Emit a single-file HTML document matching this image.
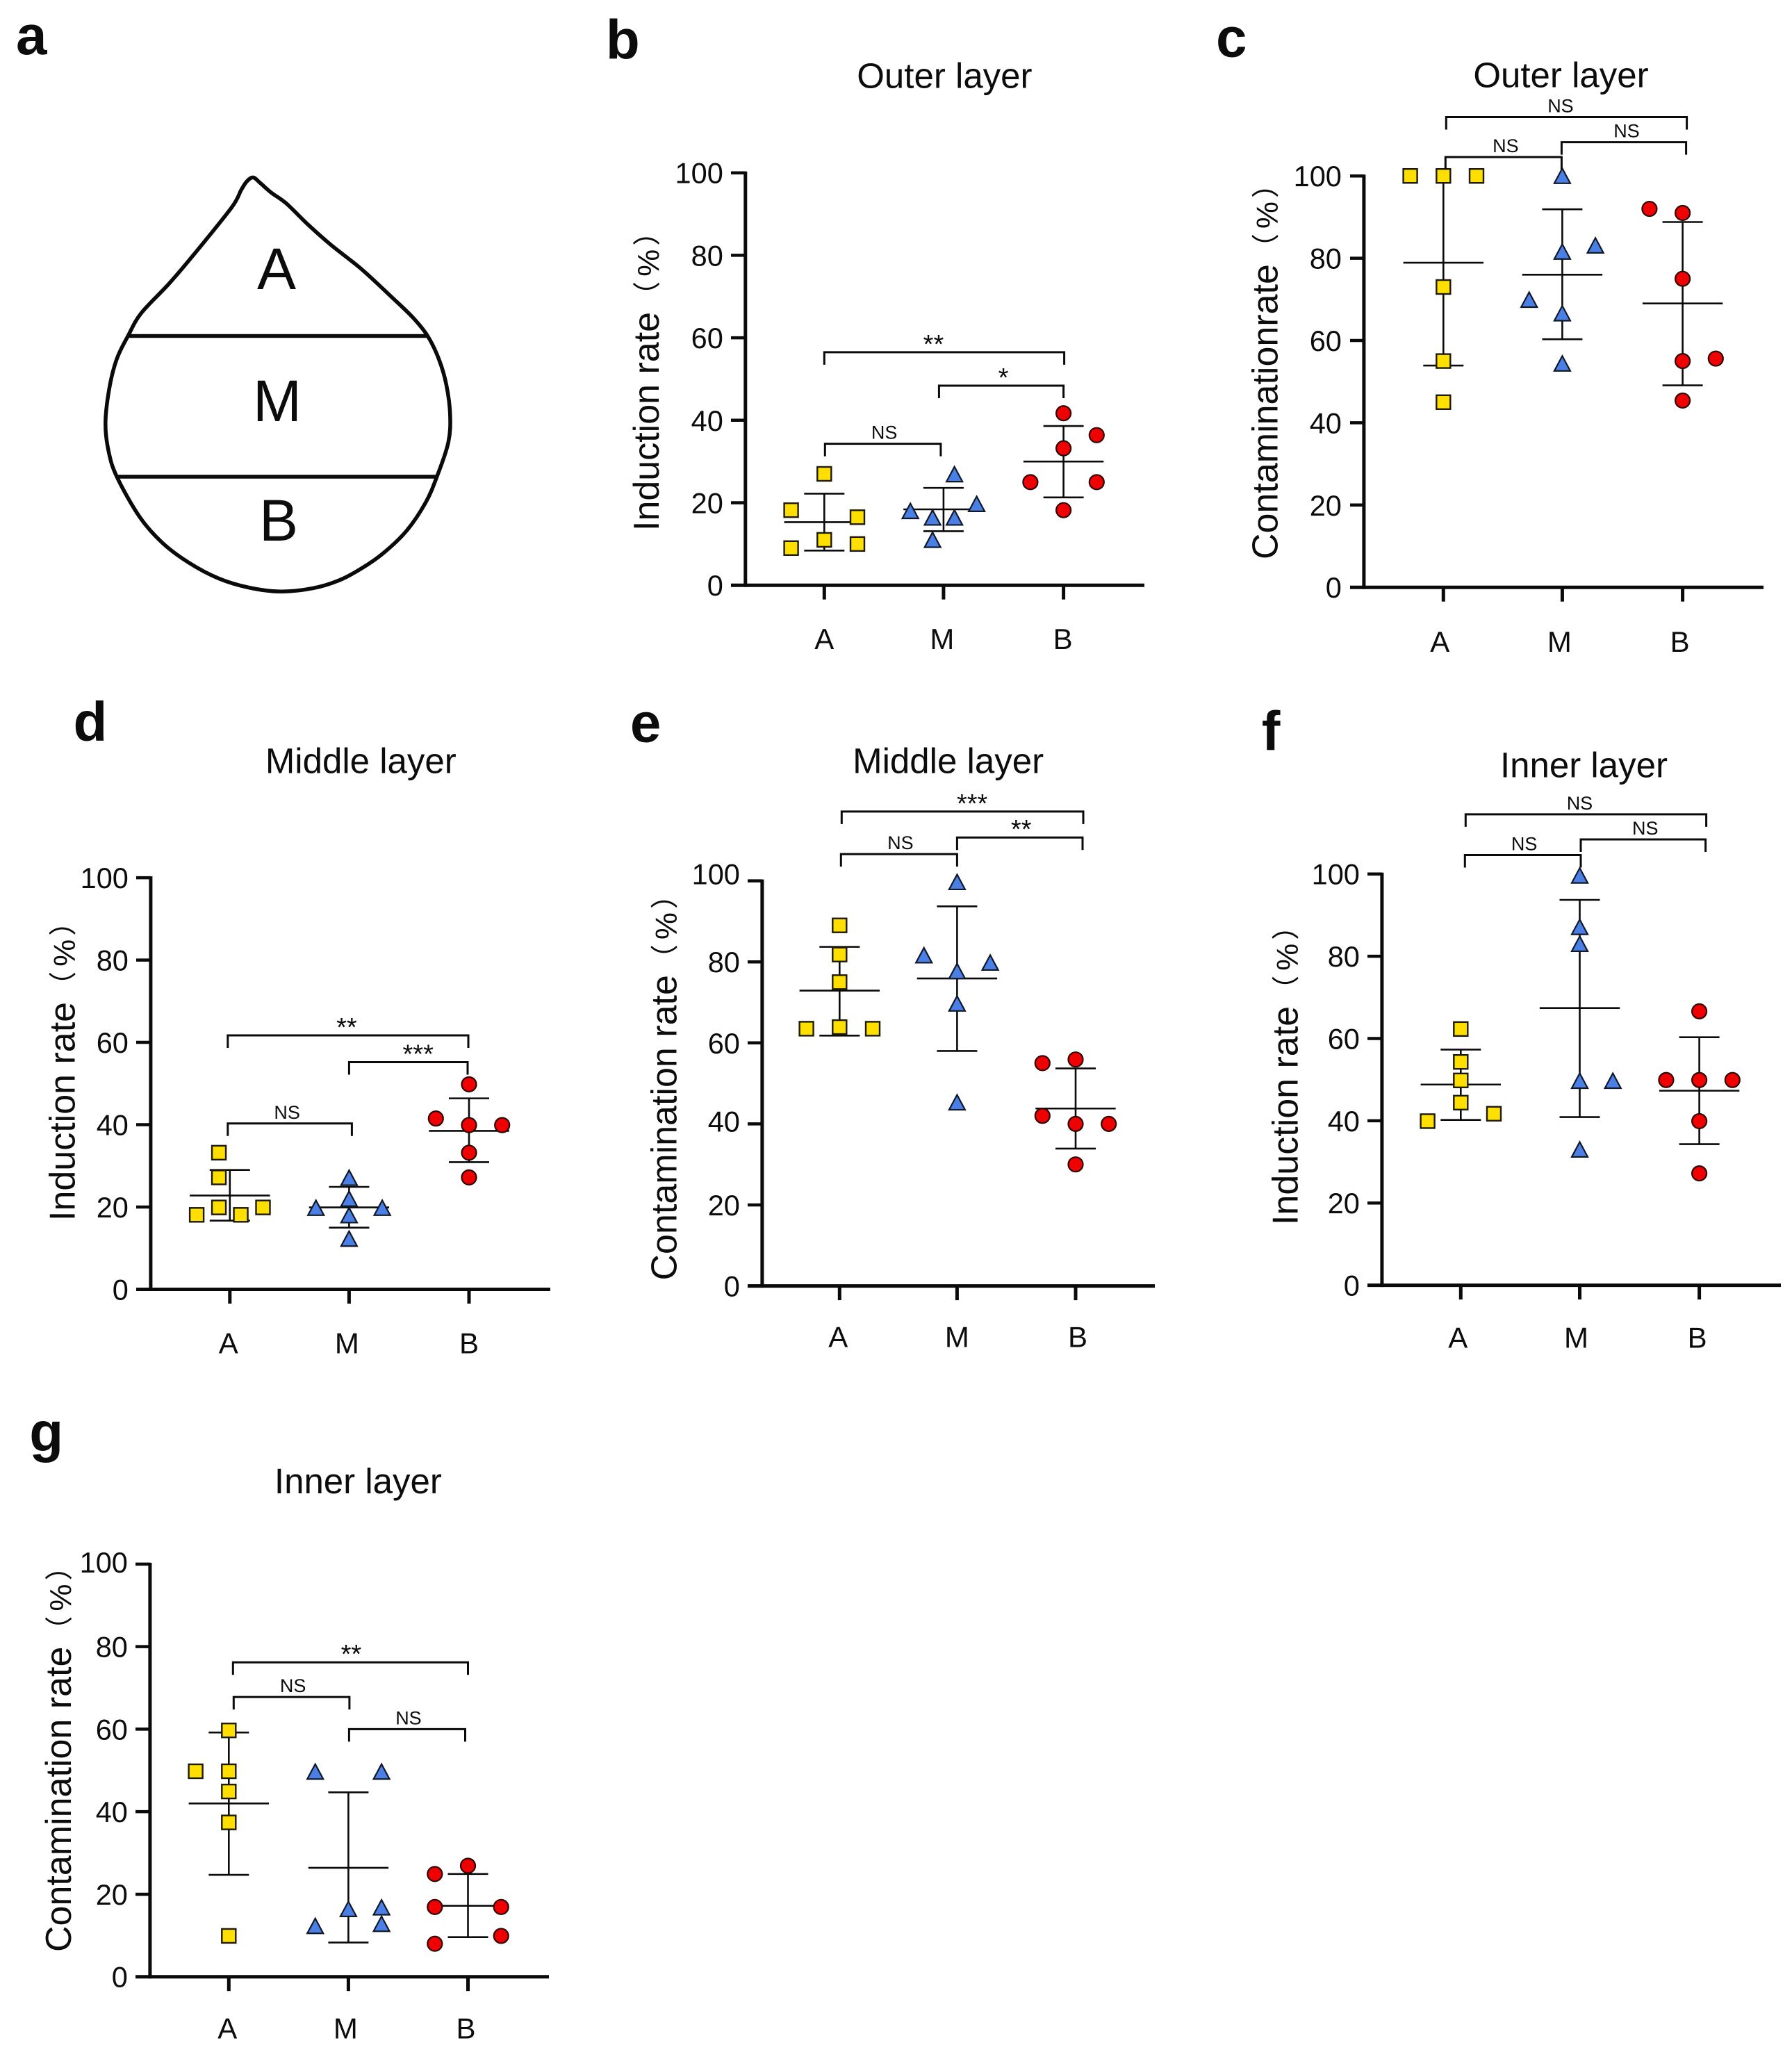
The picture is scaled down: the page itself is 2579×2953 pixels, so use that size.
<!DOCTYPE html>
<html lang="en">
<head>
<meta charset="utf-8">
<title>Induction and contamination rates by leaf section</title>
<style>
html,body{margin:0;padding:0;background:#fff;}
body{width:2579px;height:2953px;overflow:hidden;}
svg{display:block;}
text{font-family:"Liberation Sans","Noto Sans CJK SC",sans-serif;fill:#0c0c0c;}
</style>
</head>
<body>
<svg id="figure" xmlns="http://www.w3.org/2000/svg" width="2579" height="2953" viewBox="0 0 2579 2953">
  <rect x="0" y="0" width="2579" height="2953" fill="#fff"/>
  <g>
    <text x="23" y="78" font-size="80" font-weight="bold">a</text>
    <path id="leaf-outline" fill="none" stroke="#0a0a0a" stroke-width="5.5" stroke-linejoin="round" d=""/>
    <line x1="184" y1="483.5" x2="616" y2="483.5" stroke="#0a0a0a" stroke-width="5.5"/>
    <line x1="168" y1="686" x2="629" y2="686" stroke="#0a0a0a" stroke-width="5.5"/>
    <text x="398" y="416" font-size="84" text-anchor="middle">A</text>
    <text x="399" y="606" font-size="84" text-anchor="middle">M</text>
    <text x="401" y="778" font-size="84" text-anchor="middle">B</text>
  </g>
</svg>
<script>
const categories = ['A', 'M', 'B'];
const tickValues = [0, 20, 40, 60, 80, 100];

const bValues = [[27, 18.2, 16.5, 11, 9, 10], [26.8, 17.9, 16.3, 16.3, 19.6, 10.9], [41.7, 36.4, 33.2, 25, 25, 18.2]];
const bSlots = [[0, -1, 1, 0, -1, 1], [0.33, -1, -0.33, 0.33, 1, -0.33], [0, 1, 0, -1, 1, 0]];
const bMeans = [15.3, 18.4, 30];
const bUpper = [22.2, 23.6, 38.6];
const bLower = [8.4, 13.1, 21.3];

const cValues = [[100, 100, 100, 73, 55, 45], [99.9, 81.5, 83, 69.8, 66.5, 54.3], [92, 91, 75, 55, 55.6, 45.4]];
const cSlots = [[-1, 0, 1, 0, 0, 0], [0, 0, 1, -1, 0, 0], [-1, 0, 0, 0, 1, 0]];
const cMeans = [78.9, 76, 69];
const cUpper = [100, 91.9, 88.8];
const cLower = [53.9, 60.3, 49.1];

const dValues = [[33.2, 27.2, 19.9, 18.1, 18.1, 19.9], [27, 21.9, 17.9, 12.2, 19.7, 19.7], [49.8, 41.5, 39.9, 39.9, 33.2, 27.2]];
const dSlots = [[-0.33, -0.33, -0.33, -1, 0.33, 1], [0, 0, 0, 0, -1, 1], [0, -1, 0, 1, 0, 0]];
const dMeans = [22.8, 19.9, 38.5];
const dUpper = [29, 24.9, 46.4];
const dLower = [16.7, 15, 30.9];

const eValues = [[89, 81.8, 75, 63.9, 63.5, 63.5], [99.6, 77.6, 69.6, 45.2, 81.5, 79.7], [55.9, 55, 42, 40, 40, 30]];
const eSlots = [[0, 0, 0, 0, -1, 1], [0, 0, 0, 0, -1, 1], [0, -1, -1, 0, 1, 0]];
const eMeans = [72.9, 75.9, 43.8];
const eUpper = [83.7, 93.7, 53.7];
const eLower = [61.8, 58, 33.9];

const fValues = [[62.3, 54.3, 49.8, 44.4, 39.9, 41.7], [99.5, 87, 82.9, 49.6, 49.6, 32.9], [66.6, 49.9, 49.9, 49.9, 39.9, 27.2]];
const fSlots = [[0, 0, 0, 0, -1, 1], [0, 0, 0, 0, 1, 0], [0, -1, 0, 1, 0, 0]];
const fMeans = [48.8, 67.4, 47.3];
const fUpper = [57.3, 93.7, 60.3];
const fLower = [40.2, 40.9, 34.3];

const gValues = [[59.7, 49.8, 49.8, 44.9, 37.4, 9.9], [49.6, 49.6, 16.3, 16.7, 12.7, 12.2], [26.9, 24.9, 16.9, 16.9, 9.9, 8]];
const gSlots = [[0, 0, -1, 0, 0, 0], [-1, 1, 0, 1, 1, -1], [0, -1, -1, 1, 1, -1]];
const gMeans = [42, 26.4, 17.2];
const gUpper = [59.2, 44.7, 24.9];
const gLower = [24.7, 8.3, 9.6];

const bBracketLevels = [56.5, 48.4, 34.3];
const cBracketLevels = [114.3, 104.6, 108.2];
const dBracketLevels = [61.7, 55.2, 40.3];
const eBracketLevels = [117.1, 110.7, 106.6];
const fBracketLevels = [114.5, 108.4, 104.6];
const gBracketLevels = [76.2, 67.8, 60];

const bBracketLabels = ['**', '*', 'NS'];
const cBracketLabels = ['NS', 'NS', 'NS'];
const dBracketLabels = ['**', '***', 'NS'];
const eBracketLabels = ['***', '**', 'NS'];
const fBracketLabels = ['NS', 'NS', 'NS'];
const gBracketLabels = ['**', 'NS', 'NS'];

const panels = [
  {id:'b', title:'Outer layer', yTitle:'Induction rate', axisX:1072.8, y0:842.2, y100:248.7, ticks:[1186.3,1357.9,1530.6], left:1052, right:1647,
   letter:[871.9,84.6], titlePos:[1359.4,126.4], yTitlePos:[948,764], catDrop:92, catNudge:[0,-2,-1], tickNudge:{},
   values:bValues, slots:bSlots, means:bMeans, upper:bUpper, lower:bLower,
   levels:bBracketLevels, labels:bBracketLabels, spans:[[0,2,0,1,-15.5],[1,2,-6.5,0,3],[0,1,1,-4,2]]},
  {id:'c', title:'Outer layer', yTitle:'Contaminationrate', axisX:1962.9, y0:845.2, y100:253.2, ticks:[2077.3,2248.4,2421.6], left:1943, right:2538,
   letter:[1750,81.6], titlePos:[2246.5,125.4], yTitlePos:[1838.5,805], catDrop:93, catNudge:[-5,-4,-4], tickNudge:{},
   values:cValues, slots:cSlots, means:cMeans, upper:cUpper, lower:cLower,
   levels:cBracketLevels, labels:cBracketLabels, spans:[[0,2,4,6,-8.5],[0,1,3,-1,3],[1,2,-1,5,4]]},
  {id:'d', title:'Middle layer', yTitle:'Induction rate', axisX:216.9, y0:1855.5, y100:1263.1, ticks:[330.8,502.4,675], left:196, right:792,
   letter:[105.5,1066], titlePos:[519.3,1112.3], yTitlePos:[107.4,1757], catDrop:92, catNudge:[-2,-3,0], tickNudge:{},
   values:dValues, slots:dSlots, means:dMeans, upper:dUpper, lower:dLower,
   levels:dBracketLevels, labels:dBracketLabels, spans:[[0,2,-3,-1,-2],[1,2,0,-2,14],[0,1,-3,4,-4]]},
  {id:'e', title:'Middle layer', yTitle:'Contamination rate', axisX:1096.9, y0:1850.6, y100:1267.6, ticks:[1208.3,1377.4,1548], left:1076, right:1662,
   letter:[906.9,1067.7], titlePos:[1364.6,1112.4], yTitlePos:[973.5,1842.5], catDrop:88, catNudge:[-2,0,3], tickNudge:{100:-10, 40:-4},
   values:eValues, slots:eSlots, means:eMeans, upper:eUpper, lower:eLower,
   levels:eBracketLevels, labels:eBracketLabels, spans:[[0,2,3,11,14],[1,2,0,10,2],[0,1,2,0,2]]},
  {id:'f', title:'Inner layer', yTitle:'Induction rate', axisX:1988.9, y0:1849.6, y100:1257.7, ticks:[2102.3,2273.5,2445.6], left:1968, right:2563,
   letter:[1815.8,1079.6], titlePos:[2279.5,1118.4], yTitlePos:[1867.6,1763], catDrop:90, catNudge:[-4,-5,-3], tickNudge:{},
   values:fValues, slots:fSlots, means:fMeans, upper:fUpper, lower:fLower,
   levels:fBracketLevels, labels:fBracketLabels, spans:[[0,2,7,10,-9],[1,2,1.5,9,3],[0,1,6,1.5,2]]},
  {id:'g', title:'Inner layer', yTitle:'Contamination rate', axisX:215.9, y0:2844.7, y100:2250.9, ticks:[329.3,501.4,673.5], left:195, right:790,
   letter:[42.3,2088], titlePos:[515.4,2149.2], yTitlePos:[102,2809], catDrop:89, catNudge:[-2,-4,-3], tickNudge:{100:-3},
   values:gValues, slots:gSlots, means:gMeans, upper:gUpper, lower:gLower,
   levels:gBracketLevels, labels:gBracketLabels, spans:[[0,2,6,0,1],[0,1,7,1.5,2],[1,2,1,-4,2]]}
];

const SVG_NS = 'http://www.w3.org/2000/svg';
const figure = document.getElementById('figure');
const SLOT_PX = 47.7;
const MEAN_HALF = 57.7;
const CAP_HALF = 29;
const INK = '#0a0a0a';

function mk(parent, tag, props) {
  const el = document.createElementNS(SVG_NS, tag);
  Object.keys(props).forEach(function (k) { el.setAttribute(k, props[k]); });
  parent.appendChild(el);
  return el;
}
function drawLine(parent, x1, y1, x2, y2, w) {
  return mk(parent, 'line', {x1: x1, y1: y1, x2: x2, y2: y2, stroke: INK, 'stroke-width': w});
}

// Smooth closed outline of the leaf diagram (panel a), built as a Catmull-Rom curve.
(function () {
  const pts = [[1135,842],[1165,900],[1185,965],[1195,1040],[1190,1110],[1160,1195],[1130,1260],[1080,1330],[1020,1385],[960,1425],[900,1455],[830,1475],[745,1483],[660,1473],[580,1450],[500,1410],[430,1360],[370,1295],[310,1195],[288,1130],[280,1060],[290,975],[310,900],[340,842],[375,785],[450,710],[520,632],[615,520],[640,477],[655,455],[672,445],[690,458],[720,483],[760,510],[820,565],[880,615],[960,675],[1040,745],[1095,795]]
    .map(function (q) { return [q[0] * 0.5421, q[1] * 0.574]; });
  const n = pts.length;
  let d = 'M' + pts[0][0].toFixed(1) + ' ' + pts[0][1].toFixed(1);
  for (let i = 0; i < n; i++) {
    const p0 = pts[(i - 1 + n) % n], p1 = pts[i], p2 = pts[(i + 1) % n], p3 = pts[(i + 2) % n];
    const c1x = p1[0] + (p2[0] - p0[0]) / 6, c1y = p1[1] + (p2[1] - p0[1]) / 6;
    const c2x = p2[0] - (p3[0] - p1[0]) / 6, c2y = p2[1] - (p3[1] - p1[1]) / 6;
    d += ' C' + c1x.toFixed(1) + ' ' + c1y.toFixed(1) + ' ' + c2x.toFixed(1) + ' ' + c2y.toFixed(1) + ' ' + p2[0].toFixed(1) + ' ' + p2[1].toFixed(1);
  }
  document.getElementById('leaf-outline').setAttribute('d', d + ' Z');
})();

panels.forEach(function (p) {
  const yAt = function (v) { return p.y0 - (p.y0 - p.y100) * v / 100; };

  const group = mk(figure, 'g', {});
  
  

  const letter = mk(group, 'text', {x: p.letter[0], y: p.letter[1], 'font-size': 80, 'font-weight': 'bold'});
  letter.textContent = p.id;
  
  

  const title = mk(group, 'text', {x: p.titlePos[0], y: p.titlePos[1], 'font-size': 51, 'text-anchor': 'middle'});
  title.textContent = p.title;
  
  

  const yTitle = mk(group, 'text', {x: 0, y: 0, 'font-size': 52, transform: 'translate(' + p.yTitlePos[0] + ' ' + p.yTitlePos[1] + ') rotate(-90)'});
  const yMain = mk(yTitle, 'tspan', {});
  yMain.textContent = p.yTitle;
  const yOpen = mk(yTitle, 'tspan', {'font-size': 40, dx: 4, dy: -3});
  yOpen.textContent = '（';
  const yPercent = mk(yTitle, 'tspan', {'font-size': 44, dx: 7, dy: 3});
  yPercent.textContent = '%';
  const yClose = mk(yTitle, 'tspan', {'font-size': 40, dx: 5, dy: -3});
  yClose.textContent = '）';
  
  

  const yAxis = drawLine(group, p.axisX, p.y100 - 2, p.axisX, p.y0 + 2.5, 5);
  
  

  const xAxis = drawLine(group, p.left, p.y0, p.right, p.y0, 5);
  
  

  tickValues.forEach(function (v) {
    const tick = drawLine(group, p.left, yAt(v), p.axisX, yAt(v), 4.5);
    
    
    const label = mk(group, 'text', {x: p.axisX - 32, y: yAt(v) + 15 + (p.tickNudge[v] || 0), 'font-size': 41.5, 'text-anchor': 'end'});
    label.textContent = String(v);
    
    
  });

  categories.forEach(function (cat, i) {
    const cx = p.ticks[i];
    const tick = drawLine(group, cx, p.y0, cx, p.y0 + 20.5, 5);
    
    
    const label = mk(group, 'text', {x: cx + p.catNudge[i], y: p.y0 + p.catDrop, 'font-size': 42, 'text-anchor': 'middle'});
    label.textContent = cat;
    
    

    const stem = drawLine(group, cx, yAt(p.upper[i]), cx, yAt(p.lower[i]), 2.6);
    
    
    const meanLine = drawLine(group, cx - MEAN_HALF, yAt(p.means[i]), cx + MEAN_HALF, yAt(p.means[i]), 2.6);
    
    
    if (p.upper[i] < 100) {
      const upperCap = drawLine(group, cx - CAP_HALF, yAt(p.upper[i]), cx + CAP_HALF, yAt(p.upper[i]), 2.6);
      
      
    }
    const lowerCap = drawLine(group, cx - CAP_HALF, yAt(p.lower[i]), cx + CAP_HALF, yAt(p.lower[i]), 2.6);
    
    

    p.values[i].forEach(function (v, k) {
      const mx = cx + p.slots[i][k] * SLOT_PX;
      const my = yAt(v);
      let mark;
      if (i === 0) {
        mark = mk(group, 'rect', {x: mx - 10, y: my - 10, width: 20, height: 20, fill: '#ffdf00', stroke: '#1c1a08', 'stroke-width': 2.4});
      } else if (i === 1) {
        const pts = [mx, my - 11.5, mx + 11.5, my + 10, mx - 11.5, my + 10].join(' ');
        mark = mk(group, 'polygon', {points: pts, fill: '#4a80e6', stroke: '#101828', 'stroke-width': 2.2, 'stroke-linejoin': 'miter'});
      } else {
        mark = mk(group, 'ellipse', {cx: mx, cy: my, rx: 10.5, ry: 10.5, fill: '#f00000', stroke: '#2a0505', 'stroke-width': 2.2});
      }
      
      
    });
  });

  p.spans.forEach(function (s, n) {
    const x1 = p.ticks[s[0]] + s[2];
    const x2 = p.ticks[s[1]] + s[3];
    const by = yAt(p.levels[n]);
    const bracket = mk(group, 'path', {d: 'M' + x1 + ' ' + (by + 18) + ' V' + by + ' H' + x2 + ' V' + (by + 18), fill: 'none', stroke: INK, 'stroke-width': 3});
    
    
    const isStar = p.labels[n].charAt(0) === '*';
    const text = mk(group, 'text', {
      x: (x1 + x2) / 2 + s[4],
      y: isStar ? by + 1 : by - 7,
      'font-size': isStar ? 38 : 27,
      'text-anchor': 'middle'
    });
    text.textContent = p.labels[n];
    
    
  });
});
</script>
</body>
</html>
